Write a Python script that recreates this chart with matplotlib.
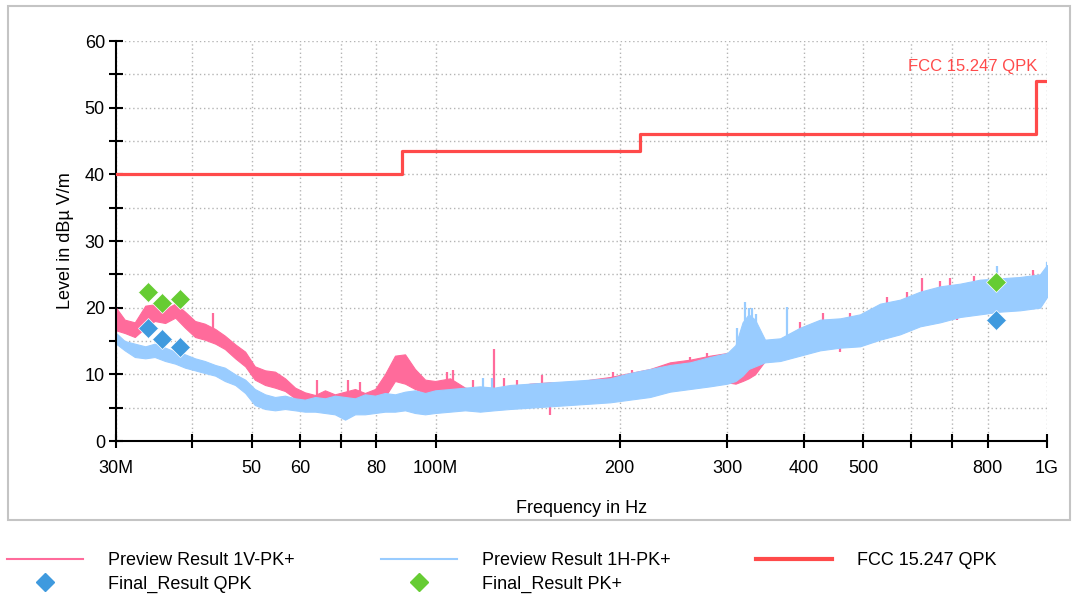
import matplotlib.pyplot as plt
from matplotlib.patches import Rectangle
from matplotlib.lines import Line2D
from matplotlib.ticker import FixedLocator, NullFormatter

plt.rcParams['font.family'] = ['Liberation Sans', 'DejaVu Sans']

# frequency grid of the read-off envelopes (MHz)
freq_mhz = [30.0, 31.0, 32.2, 33.5, 34.7, 36.1, 37.5, 38.9, 40.4, 41.9, 43.6, 45.2, 47.0, 48.8,
            50.6, 52.6, 54.6, 56.7, 58.9, 61.1, 63.5, 65.9, 68.4, 71.1, 73.8, 76.6, 79.6, 82.6,
            85.8, 89.1, 92.5, 96.1, 99.8, 105.6, 111.7, 118.2, 124.6, 132.3, 142.7, 153.8, 165.9,
            178.9, 192.9, 207.9, 224.2, 241.7, 260.7, 281.1, 300.0, 309.4, 317.7, 325.0, 333.0,
            345.7, 366.0, 394.6, 425.5, 458.8, 494.5, 533.3, 574.9, 620.0, 668.5, 720.7, 777.0,
            838.0, 903.0, 974.0, 1000.0]

# Preview Result 1V-PK+ (upper / lower edge of the trace, dBuV/m)
v_hi = [20.0, 18.2, 17.8, 20.3, 20.5, 19.8, 20.6, 19.4, 18.0, 17.6, 16.8, 15.8, 14.5, 13.4,
        11.2, 10.6, 10.4, 9.4, 8.0, 7.3, 6.9, 7.6, 7.0, 7.4, 7.8, 7.2, 7.8, 10.0,
        12.8, 13.0, 10.8, 9.2, 9.0, 9.4, 8.0, 7.6, 7.6, 8.0, 8.6, 8.8, 8.6,
        9.2, 9.6, 10.2, 10.8, 11.8, 12.2, 12.8, 13.2, 13.0, 12.2, 12.4, 12.8,
        14.8, 15.2, 16.8, 18.0, 18.2, 18.8, 20.4, 21.0, 22.2, 23.0, 23.4, 24.0,
        24.2, 24.4, 24.8, 25.6]
v_lo = [16.6, 16.2, 15.6, 17.0, 18.0, 17.7, 18.5, 17.0, 15.6, 15.2, 14.6, 13.8, 12.4, 11.2,
        9.2, 8.4, 8.0, 7.5, 6.4, 5.8, 5.2, 5.0, 4.8, 5.0, 5.2, 5.0, 5.4, 6.6,
        9.0, 8.6, 7.8, 7.2, 7.0, 6.8, 5.4, 5.0, 5.0, 5.0, 5.2, 5.4, 5.6,
        5.8, 6.0, 6.4, 6.8, 7.6, 8.0, 8.4, 8.8, 8.6, 9.0, 9.4, 10.0,
        12.0, 12.2, 13.0, 13.8, 14.2, 14.4, 15.4, 16.2, 17.4, 18.0, 18.8, 19.2,
        19.6, 19.8, 20.2, 21.8]

# Preview Result 1H-PK+
h_hi = [16.2, 15.0, 14.6, 14.2, 14.6, 14.0, 13.4, 13.0, 12.4, 12.0, 11.4, 11.0, 10.0, 9.2,
        7.8, 7.0, 6.6, 6.8, 6.4, 6.2, 6.6, 6.4, 6.8, 6.6, 6.4, 7.0, 6.8, 7.2,
        7.0, 7.4, 7.6, 7.2, 7.6, 7.8, 8.0, 8.2, 8.0, 8.4, 8.6, 8.8, 9.0,
        9.2, 9.4, 10.2, 10.8, 11.4, 11.8, 12.6, 13.2, 14.4, 17.8, 19.0, 18.2,
        15.2, 15.4, 17.0, 18.2, 18.4, 19.0, 20.6, 21.2, 22.4, 23.2, 23.6, 24.2,
        24.4, 24.6, 25.0, 26.4]
h_lo = [14.6, 13.6, 12.6, 12.4, 12.6, 12.0, 11.6, 11.0, 10.6, 10.2, 9.8, 9.0, 8.4, 7.2,
        5.4, 4.8, 4.6, 4.8, 4.6, 4.4, 4.4, 4.2, 4.0, 3.2, 4.0, 4.0, 4.2, 4.4,
        4.4, 4.6, 4.2, 4.0, 4.2, 4.4, 4.6, 4.4, 4.6, 4.8, 5.0, 5.2, 5.4,
        5.6, 5.8, 6.2, 6.6, 7.4, 7.8, 8.2, 8.6, 9.0, 9.8, 10.8, 11.2,
        11.8, 12.0, 12.8, 13.6, 14.0, 14.2, 15.2, 16.0, 17.2, 17.8, 18.6, 19.0,
        19.4, 19.6, 20.0, 21.6]

# single narrow spikes standing out of the traces (MHz, from, to)
v_spike_f = [43.2, 64.0, 71.9, 75.2, 104.4, 106.8, 115.1, 124.6, 129.4, 135.9, 149.3, 195.1,
             209.6, 260.7, 277.9, 394.6, 430.0, 476.0, 547.6, 590.0, 624.6, 668.5, 694.0,
             760.0, 948.7, 153.8, 458.8, 712.6]
v_spike_lo = [16.0, 6.5, 6.5, 6.5, 8.0, 8.0, 7.0, 7.0, 7.5, 7.5, 8.0, 9.0,
              9.5, 11.0, 12.0, 16.0, 17.0, 17.5, 19.5, 20.0, 21.5, 22.0, 22.0,
              22.5, 23.5, 3.9, 13.4, 18.2]
v_spike_hi = [19.2, 9.1, 9.1, 8.9, 10.4, 10.6, 9.2, 13.8, 9.5, 9.1, 9.9, 10.4,
              10.6, 12.6, 13.2, 17.9, 19.2, 19.2, 21.6, 22.4, 24.4, 24.0, 24.4,
              24.8, 25.6, 5.5, 15.0, 19.5]
h_spike_f = [119.5, 123.7, 311.2, 320.8, 325.0, 329.2, 334.2, 375.7, 828.0, 1000.0]
h_spike_lo = [7.5, 7.5, 12.0, 14.0, 14.0, 14.0, 14.0, 15.0, 23.0, 24.0]
h_spike_hi = [9.4, 9.4, 17.0, 20.9, 20.0, 20.0, 19.0, 20.1, 26.2, 26.9]

# FCC 15.247 QPK limit
limit_f = [30, 88, 216, 960, 1000]
limit_v = [40.0, 43.5, 46.0, 54.0, 54.0]

# final measurements
qpk_f = [33.8, 35.7, 38.2, 825.0]
qpk_v = [17.0, 15.3, 14.1, 18.2]
pk_f = [33.8, 35.7, 38.2, 825.0]
pk_v = [22.4, 20.7, 21.3, 23.9]

x_major = [30, 50, 60, 80, 100, 200, 300, 400, 500, 800, 1000]
x_labels = ['30M', '50', '60', '80', '100M', '200', '300', '400', '500', '800', '1G']
x_minor = [40, 70, 600, 700]

c_v = '#ff6b9b'
c_h = '#99ccff'
c_lim = '#ff4a4a'
c_qpk = '#3f9ade'
c_pk = '#66cc33'

W, H = 1077, 603
fig = plt.figure(figsize=(W / 100, H / 100), dpi=100)
ax = fig.add_axes([116 / W, 1 - 441 / H, 931 / W, 400 / H])

hz = lambda lst: [f * 1e6 for f in lst]

ax.fill_between(hz(freq_mhz), v_lo, v_hi, color=c_v, lw=0.8, zorder=1)
ax.vlines(hz(v_spike_f), v_spike_lo, v_spike_hi, color=c_v, lw=1.6, zorder=1)
ax.fill_between(hz(freq_mhz), h_lo, h_hi, color=c_h, lw=0.8, zorder=1.1)
ax.vlines(hz(h_spike_f), h_spike_lo, h_spike_hi, color=c_h, lw=1.6, zorder=1.1)

ax.step(hz(limit_f), limit_v, where='post', color=c_lim, lw=2.3, zorder=3)
ax.text(965e6, 55.0, 'FCC 15.247 QPK', color=c_lim, fontsize=12, ha='right', va='bottom')

ax.plot(hz(qpk_f), qpk_v, 'D', color=c_qpk, ms=10, mec='white', mew=0.5, zorder=4)
ax.plot(hz(pk_f), pk_v, 'D', color=c_pk, ms=10, mec='white', mew=0.5, zorder=4)

ax.set_xscale('log')
ax.set_xlim(30e6, 1e9)
ax.set_ylim(0, 60)
ax.xaxis.set_major_locator(FixedLocator(hz(x_major)))
ax.set_xticklabels(x_labels)
ax.xaxis.set_minor_locator(FixedLocator(hz(x_minor)))
ax.xaxis.set_minor_formatter(NullFormatter())
ax.set_yticks(range(0, 61, 10))
ax.set_yticks(range(5, 60, 10), minor=True)

ax.set_axisbelow(True)
ax.grid(True, which='both', color='#b4b4b4', linestyle=(0, (1, 2)), lw=1)
for s in ['top', 'right']:
    ax.spines[s].set_visible(False)
for s in ['left', 'bottom']:
    ax.spines[s].set_linewidth(1.5)
ax.tick_params(which='both', direction='inout', length=10, width=1.5, labelsize=13)
ax.tick_params(axis='x', which='both', pad=9)
ax.tick_params(axis='y', which='both', pad=3)

ax.set_xlabel('Frequency in Hz', fontsize=13, labelpad=16)
ax.set_ylabel('Level in dBµ V/m', fontsize=13, labelpad=8)

fig.patches.append(Rectangle((8 / W, 1 - 520 / H), 1062 / W, 514 / H, transform=fig.transFigure,
                             fill=False, edgecolor='#c4c4c4', lw=1.5))

handles = [Line2D([], [], color=c_v, lw=1.5),
           Line2D([], [], marker='D', ls='none', color=c_qpk, ms=9),
           Line2D([], [], color=c_h, lw=1.5),
           Line2D([], [], marker='D', ls='none', color=c_pk, ms=9),
           Line2D([], [], color=c_lim, lw=3)]
labels = ['Preview Result 1V-PK+', 'Final_Result QPK', 'Preview Result 1H-PK+',
          'Final_Result PK+', 'FCC 15.247 QPK']
fig.legend(handles, labels, loc='upper left', bbox_to_anchor=(0 / W, 1 - 545 / H), ncol=3,
           frameon=False, fontsize=13, handlelength=4.2, handletextpad=1.4,
           columnspacing=4.75, labelspacing=0.35, borderaxespad=0)

fig.savefig('out.png', dpi=100)
